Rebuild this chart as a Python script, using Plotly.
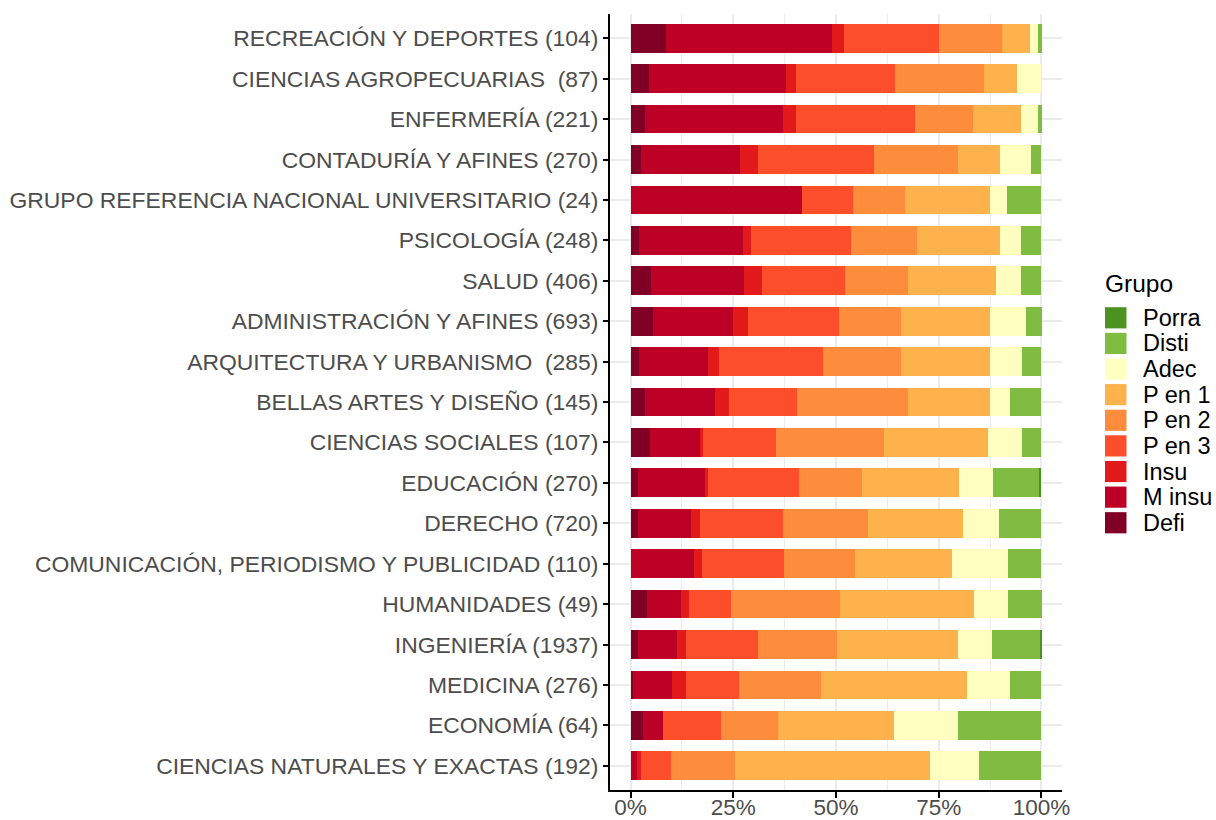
import plotly.graph_objects as go

# Categories, top to bottom as shown
categories = [
    "RECREACIÓN Y DEPORTES (104)",
    "CIENCIAS AGROPECUARIAS  (87)",
    "ENFERMERÍA (221)",
    "CONTADURÍA Y AFINES (270)",
    "GRUPO REFERENCIA NACIONAL UNIVERSITARIO (24)",
    "PSICOLOGÍA (248)",
    "SALUD (406)",
    "ADMINISTRACIÓN Y AFINES (693)",
    "ARQUITECTURA Y URBANISMO  (285)",
    "BELLAS ARTES Y DISEÑO (145)",
    "CIENCIAS SOCIALES (107)",
    "EDUCACIÓN (270)",
    "DERECHO (720)",
    "COMUNICACIÓN, PERIODISMO Y PUBLICIDAD (110)",
    "HUMANIDADES (49)",
    "INGENIERÍA (1937)",
    "MEDICINA (276)",
    "ECONOMÍA (64)",
    "CIENCIAS NATURALES Y EXACTAS (192)",
]

# Percentages per group (same order as categories)
defi   = [8.7, 4.6, 3.6, 2.6, 0.0, 2.0, 4.9, 5.5, 2.1, 3.4, 4.7, 1.9, 1.9, 0.0, 4.1, 1.9, 0.7, 3.1, 0.0]
m_insu = [40.4, 33.3, 33.5, 24.1, 41.7, 25.4, 22.7, 19.5, 16.8, 17.2, 12.1, 16.3, 12.7, 15.5, 8.2, 9.5, 9.4, 4.7, 1.6]
insu   = [2.9, 2.3, 3.2, 4.4, 0.0, 2.0, 4.4, 3.5, 2.7, 3.4, 0.9, 0.7, 2.4, 1.8, 2.0, 2.2, 3.3, 0.0, 1.0]
p_en_3 = [23.1, 24.1, 29.0, 28.1, 12.5, 24.2, 20.2, 22.2, 25.3, 16.6, 17.8, 22.2, 20.0, 20.0, 10.2, 17.3, 13.0, 14.1, 7.3]
p_en_2 = [15.4, 21.8, 14.0, 20.4, 12.5, 16.1, 15.3, 15.2, 18.8, 26.9, 26.2, 15.2, 20.7, 17.3, 26.5, 19.3, 19.9, 14.1, 15.6]
p_en_1 = [6.7, 8.0, 11.8, 10.4, 20.8, 20.2, 21.4, 21.5, 21.7, 20.0, 25.2, 23.7, 23.2, 23.6, 32.7, 29.5, 35.5, 28.1, 47.4]
adec   = [1.9, 5.9, 4.1, 7.4, 4.2, 5.2, 6.2, 8.8, 7.8, 4.8, 8.4, 8.1, 8.8, 13.6, 8.2, 8.3, 10.5, 15.6, 12.0]
disti  = [1.0, 0.0, 0.9, 2.6, 8.3, 4.8, 4.9, 4.0, 4.8, 7.6, 4.7, 11.5, 10.3, 8.2, 8.2, 11.8, 7.6, 20.3, 15.1]
porra  = [0, 0, 0, 0, 0, 0, 0, 0, 0, 0, 0, 0.4, 0, 0, 0, 0.2, 0, 0, 0]

groups = ["Defi", "M insu", "Insu", "P en 3", "P en 2", "P en 1", "Adec", "Disti", "Porra"]
values = [defi, m_insu, insu, p_en_3, p_en_2, p_en_1, adec, disti, porra]
colors = ["#800026", "#BD0026", "#E31A1C", "#FC4E2A", "#FD8D3C", "#FEB24C", "#FFFFBF", "#7FBC41", "#4D9221"]

x_ticks = [0, 25, 50, 75, 100]
x_tick_labels = ["0%", "25%", "50%", "75%", "100%"]

FONT = "Liberation Sans, Arial, sans-serif"
W, H = 1216, 820
ML, MR, MT, MB = 610, 154, 14, 30
PW, PH = W - ML - MR, H - MT - MB

fig = go.Figure()
for g, v, c in zip(groups, values, colors):
    fig.add_trace(go.Bar(
        y=categories, x=v, name=g, orientation="h",
        marker=dict(color=c, line=dict(width=0)),
        showlegend=False,
    ))

# custom legend (ggplot-like large keys)
def px_to_paper(px, py):
    return (px - ML) / PW, 1 - (py - MT) / PH

shapes = []
annotations = []
tx, ty = px_to_paper(1103, 283)
annotations.append(dict(text="Grupo", x=tx, y=ty, xref="paper", yref="paper",
                        xanchor="left", yanchor="middle", showarrow=False,
                        font=dict(family=FONT, size=24.5, color="black")))
legend_order = list(zip(groups, colors))[::-1]
for i, (g, c) in enumerate(legend_order):
    cy = 317.8 + 25.62 * i
    x0, y0 = px_to_paper(1105, cy - 10.6)
    x1, y1 = px_to_paper(1126.5, cy + 10.6)
    shapes.append(dict(type="rect", xref="paper", yref="paper", x0=x0, x1=x1, y0=y1, y1=y0,
                       fillcolor=c, line=dict(width=0), layer="above"))
    lx, ly = px_to_paper(1141, cy)
    annotations.append(dict(text=g, x=lx, y=ly, xref="paper", yref="paper",
                            xanchor="left", yanchor="middle", showarrow=False,
                            font=dict(family=FONT, size=23.5, color="black")))

fig.update_layout(
    width=W, height=H,
    barmode="stack", bargap=0.29,
    paper_bgcolor="white", plot_bgcolor="white",
    margin=dict(l=ML, r=MR, t=MT, b=MB, pad=0),
    font=dict(family=FONT, color="#4D4D4D"),
    shapes=shapes, annotations=annotations,
    showlegend=False,
    xaxis=dict(
        range=[-5, 105], tickmode="array", tickvals=x_ticks, ticktext=x_tick_labels,
        showgrid=True, gridcolor="#EBEBEB", gridwidth=2,
        minor=dict(tickvals=[12.5, 37.5, 62.5, 87.5], showgrid=True,
                   gridcolor="#EBEBEB", gridwidth=1.3, ticks=""),
        showline=True, linecolor="black", linewidth=2,
        ticks="outside", ticklen=6, tickwidth=2, tickcolor="black",
        ticklabelstandoff=-10,
        tickfont=dict(family=FONT, size=22.5, color="#4D4D4D"),
        zeroline=False, automargin=False, fixedrange=True,
    ),
    yaxis=dict(
        categoryorder="array", categoryarray=categories[::-1],
        range=[-0.6, len(categories) - 0.4],
        showgrid=True, gridcolor="#EBEBEB", gridwidth=2,
        showline=True, linecolor="black", linewidth=2,
        ticks="outside", ticklen=5, tickwidth=2, tickcolor="black",
        tickfont=dict(family=FONT, size=22.9, color="#4D4D4D"),
        zeroline=False, automargin=False, fixedrange=True,
    ),
)

fig.write_html(
    "out.html",
    config={"displayModeBar": False},
    post_script="document.body.style.margin='0';document.body.style.overflow='hidden';",
)
